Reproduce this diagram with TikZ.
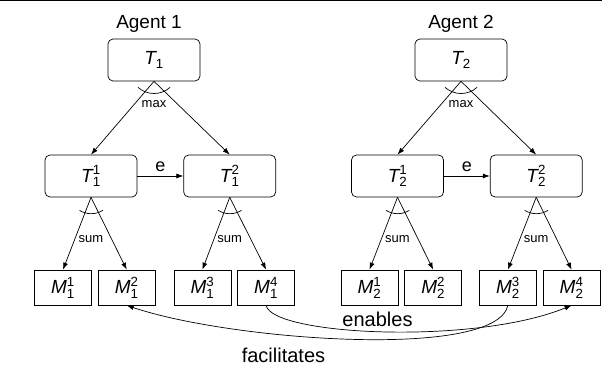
\documentclass[tikz,border=0pt]{standalone}
\usepackage{amsmath}
\usepackage{fontspec}
\setmainfont{Liberation Sans}
\usetikzlibrary{arrows.meta,positioning}

\begin{document}
\begin{tikzpicture}[x=1pt, y=1pt, >={Latex[length=7pt,width=5pt]}, line width=0.7pt,
  task/.style={draw, rounded corners=5pt, minimum width=92pt, minimum height=42pt, font=\fontsize{19}{21}\selectfont},
  method/.style={draw, minimum width=57pt, minimum height=35pt, inner sep=0pt, font=\fontsize{19}{21}\selectfont},
  small/.style={font=\fontsize{13}{15}\selectfont, inner sep=1pt},
  big/.style={font=\fontsize{20}{22}\selectfont, inner sep=0pt}]
\useasboundingbox (0,0) rectangle (602,371);
\draw [line width=1.5pt] (0,370.5) -- (602,370.5);

\node (ag1_top) at (154,311) [task] {$\textit{T}_{\textrm{1}}$};
\node (ag1_name) at (149,347) [big, font=\fontsize{19}{21}\selectfont] {Agent 1};
\node (ag1_t1) at (91,195) [task] {$\textit{T}_{\textrm{1}}^{\textrm{1}}$};
\node (ag1_t2) at (ag1_t1.east) [task, right=46pt] {$\textit{T}_{\textrm{1}}^{\textrm{2}}$};
\node (ag1_m1) at (63,83.5) [method] {$\textit{M}_{\textrm{1}}^{\textrm{1}}$};
\node (ag1_m2) at (ag1_m1.east) [method, right=6pt] {$\textit{M}_{\textrm{1}}^{\textrm{2}}$};
\node (ag1_m3) at (ag1_m2.east) [method, right=18pt] {$\textit{M}_{\textrm{1}}^{\textrm{3}}$};
\node (ag1_m4) at (ag1_m3.east) [method, right=6pt] {$\textit{M}_{\textrm{1}}^{\textrm{4}}$};

\draw [->] (ag1_top.south) -- (ag1_t1.north);
\draw [->] (ag1_top.south) -- (ag1_t2.north);
\draw ([shift={(-16,-6)}]ag1_top.south) arc[start angle=-132, end angle=-48, radius=24];
\node (ag1_max) at (ag1_top.south) [small, below=17.5pt] {max};
\draw [->] (ag1_t1) -- (ag1_t2) node [midway, above=3pt, inner sep=1pt, font=\fontsize{18}{20}\selectfont] {e};

\draw [->] (ag1_t1.south) -- (ag1_m1.north);
\draw [->] (ag1_t1.south) -- (ag1_m2.north);
\draw ([shift={(-11.5,-13)}]ag1_t1.south) arc[start angle=-122, end angle=-58, radius=22];
\node (ag1_sum1) at (ag1_t1.south) [small, below=36.5pt] {sum};
\draw [->] (ag1_t2.south) -- (ag1_m3.north);
\draw [->] (ag1_t2.south) -- (ag1_m4.north);
\draw ([shift={(-11.5,-13)}]ag1_t2.south) arc[start angle=-122, end angle=-58, radius=22];
\node (ag1_sum2) at (ag1_t2.south) [small, below=36.5pt] {sum};

\node (ag2_top) at (461,311) [task] {$\textit{T}_{\textrm{2}}$};
\node (ag2_name) at (461,347) [big, font=\fontsize{19}{21}\selectfont] {Agent 2};
\node (ag2_t1) at (397.5,195) [task] {$\textit{T}_{\textrm{2}}^{\textrm{1}}$};
\node (ag2_t2) at (ag2_t1.east) [task, right=46pt] {$\textit{T}_{\textrm{2}}^{\textrm{2}}$};
\node (ag2_m1) at (369.5,83.5) [method] {$\textit{M}_{\textrm{2}}^{\textrm{1}}$};
\node (ag2_m2) at (ag2_m1.east) [method, right=6pt] {$\textit{M}_{\textrm{2}}^{\textrm{2}}$};
\node (ag2_m3) at (ag2_m2.east) [method, right=17pt] {$\textit{M}_{\textrm{2}}^{\textrm{3}}$};
\node (ag2_m4) at (ag2_m3.east) [method, right=6pt] {$\textit{M}_{\textrm{2}}^{\textrm{4}}$};

\draw [->] (ag2_top.south) -- (ag2_t1.north);
\draw [->] (ag2_top.south) -- (ag2_t2.north);
\draw ([shift={(-16,-6)}]ag2_top.south) arc[start angle=-132, end angle=-48, radius=24];
\node (ag2_max) at (ag2_top.south) [small, below=17.5pt] {max};
\draw [->] (ag2_t1) -- (ag2_t2) node [midway, above=3pt, inner sep=1pt, font=\fontsize{18}{20}\selectfont] {e};

\draw [->] (ag2_t1.south) -- (ag2_m1.north);
\draw [->] (ag2_t1.south) -- (ag2_m2.north);
\draw ([shift={(-11.5,-13)}]ag2_t1.south) arc[start angle=-122, end angle=-58, radius=22];
\node (ag2_sum1) at (ag2_t1.south) [small, below=36.5pt] {sum};
\draw [->] (ag2_t2.south) -- (ag2_m3.north);
\draw [->] (ag2_t2.south) -- (ag2_m4.north);
\draw ([shift={(-11.5,-13)}]ag2_t2.south) arc[start angle=-122, end angle=-58, radius=22];
\node (ag2_sum2) at (ag2_t2.south) [small, below=36.5pt] {sum};

% interrelationships between the agents
\draw [->] (ag1_m4.south) .. controls +(6,-30) and +(-98,-40) .. (ag2_m4.south);
\draw [->] (ag2_m3.south) .. controls +(-12,-55) and +(103,-35) .. (ag1_m2.south);
\node (enables) at (377.5,51.5) [big] {enables};
\node (facilitates) at (283.5,15.5) [big] {facilitates};

\end{tikzpicture}
\end{document}
